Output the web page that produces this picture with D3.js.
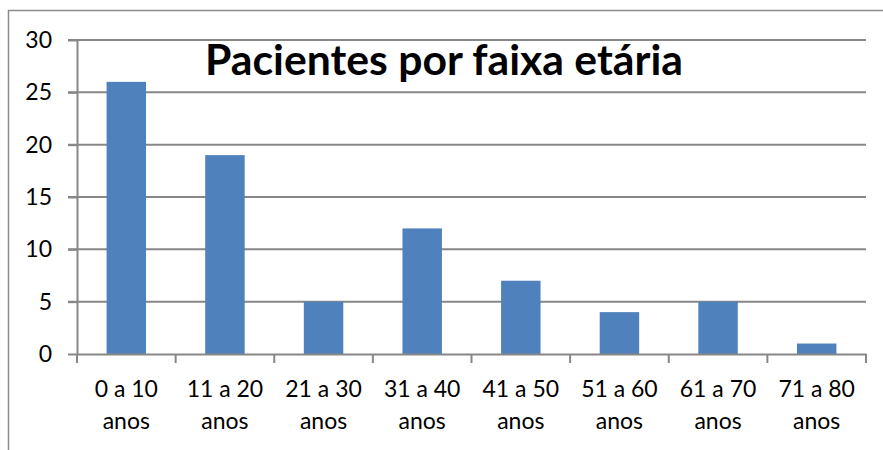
<!DOCTYPE html>
<html><head><meta charset="utf-8">
<script src="https://cdn.jsdelivr.net/npm/d3@7"></script>
<style>body{margin:0;background:#fff}svg{display:block}</style>
</head><body>
<svg id="c" width="883" height="450"></svg>
<script>
const title = "Pacientes por faixa etária";
const categories = ["0 a 10|anos","11 a 20|anos","21 a 30|anos","31 a 40|anos","41 a 50|anos","51 a 60|anos","61 a 70|anos","71 a 80|anos"];
const values = [26, 19, 5, 12, 7, 4, 5, 1];
const yTicks = [0, 5, 10, 15, 20, 25, 30];

const svg = d3.select("#c");
const font = "Lato, 'Open Sans', sans-serif";
// outer frame (left & top visible)
svg.append("path").attr("d","M8.5,450 V10.5 H883").attr("fill","none").attr("stroke","#8c8c8c").attr("stroke-width",1.5);

const L = 77, R = 866, T = 40, B = 354;
const x = d3.scaleBand().domain(categories).range([L, R]).padding(0);
const y = d3.scaleLinear().domain([0, 30]).range([B, T]);

// gridlines
svg.append("g").selectAll("line").data(yTicks.filter(d=>d>0)).join("line")
  .attr("x1", L-9).attr("x2", R).attr("y1", d=>y(d)).attr("y2", d=>y(d))
  .attr("stroke","#878787").attr("stroke-width",2);

// bars
const bw = x.bandwidth()*0.4;
svg.append("g").selectAll("rect").data(values).join("rect")
  .attr("x", (d,i)=>x(categories[i]) + (x.bandwidth()-bw)/2)
  .attr("y", d=>y(d)).attr("width", bw).attr("height", d=>B - y(d))
  .attr("fill","#4F81BD");

// y axis
const ya = svg.append("g").attr("transform",`translate(${L},0)`)
  .call(d3.axisLeft(y).tickValues(yTicks).tickSize(9).tickPadding(16).tickSizeOuter(0));
ya.select(".domain").attr("stroke","#878787").attr("stroke-width",2);
ya.selectAll(".tick line").attr("stroke","#878787").attr("stroke-width",2);
ya.selectAll(".tick text").attr("font-family",font).attr("font-size",23).attr("fill","#000");

// x axis
const xa = svg.append("g").attr("transform",`translate(0,${B})`)
  .call(d3.axisBottom(x).tickSize(0).tickFormat(()=>""));
xa.select(".domain").attr("stroke","#878787").attr("stroke-width",2);
const tickX = [L, ...categories.map(c=>x(c)+x.bandwidth())];
svg.append("g").selectAll("line").data(tickX).join("line")
  .attr("x1",d=>d).attr("x2",d=>d).attr("y1",B).attr("y2",B+9)
  .attr("stroke","#878787").attr("stroke-width",2);

const lab = svg.append("g").selectAll("text").data(categories).join("text")
  .attr("x", d=>x(d)+x.bandwidth()/2).attr("y", 397)
  .attr("text-anchor","middle").attr("font-family",font).attr("font-size",23).attr("fill","#000");
lab.each(function(d){
  const parts = d.split("|");
  const t = d3.select(this);
  parts.forEach((p,i)=>t.append("tspan").attr("x", x(d)+x.bandwidth()/2).attr("dy", i?32:0).text(p));
});

// title
const tt = svg.append("text").attr("x", 444).attr("y", 75).attr("text-anchor","middle")
  .attr("font-family",font).attr("font-weight","bold").attr("font-size",38).attr("fill","#000").text(title);
const w = tt.node().getComputedTextLength();
tt.attr("font-size", 38*478/w);
</script>
</body></html>
